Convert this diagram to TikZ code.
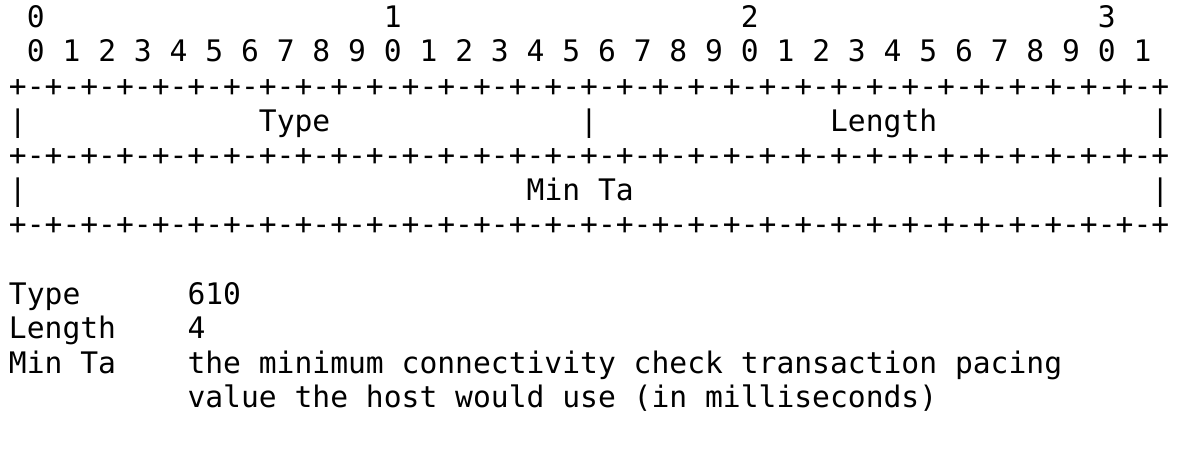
\documentclass[tikz,border=0pt]{standalone}
\usepackage{fontspec}
\setmonofont{DejaVu Sans Mono}
\usepackage{xcolor}
\usepackage{tikz}
\definecolor{ink}{RGB}{0, 0, 0}
\tikzstyle{ascii} = [anchor=base west, inner sep=0pt, outer sep=0pt, text=ink, font=\ttfamily\fontsize{29.65}{34.6}\selectfont]

\begin{document}
\begin{tikzpicture}[x=17.85pt, y=34.6pt]
    \path[use as bounding box] (-9pt,27.3pt) rectangle (1176pt,-422.7pt);

    \foreach \d [count=\i from 0] in {0,1,2,3}
        \node (ten\d) [ascii] at (1+20*\i, 0) {\d};
    \foreach \b in {0,...,31} {
        \pgfmathtruncatemacro{\u}{mod(\b,10)}
        \node (bit\b) [ascii] at (1+2*\b, -1) {\u};
    }

    \node (ruletop) [ascii] at (0,-2) {+-+-+-+-+-+-+-+-+-+-+-+-+-+-+-+-+-+-+-+-+-+-+-+-+-+-+-+-+-+-+-+-+};
    \node (barleft) [ascii] at (0,-3) {|};
    \node (typefield) [ascii] at (14,-3) {Type};
    \node (barmid) [ascii] at (32,-3) {|};
    \node (lenfield) [ascii] at (46,-3) {Length};
    \node (barright) [ascii] at (64,-3) {|};
    \node (rulemid) [ascii] at (0,-4) {+-+-+-+-+-+-+-+-+-+-+-+-+-+-+-+-+-+-+-+-+-+-+-+-+-+-+-+-+-+-+-+-+};
    \node (minleft) [ascii] at (0,-5) {|};
    \node (minfield) [ascii] at (29,-5) {Min Ta};
    \node (minright) [ascii] at (64,-5) {|};
    \node (rulebot) [ascii] at (0,-6) {+-+-+-+-+-+-+-+-+-+-+-+-+-+-+-+-+-+-+-+-+-+-+-+-+-+-+-+-+-+-+-+-+};

    \node (typekey) [ascii] at (0,-8) {Type};
    \node (typeval) [ascii] at (10,-8) {610};
    \node (lenkey) [ascii] at (0,-9) {Length};
    \node (lenval) [ascii] at (10,-9) {4};
    \node (minkey) [ascii] at (0,-10) {Min Ta};
    \node (minval) [ascii] at (10,-10) {the minimum connectivity check transaction pacing};
    \node (minvalb) [ascii] at (10,-11) {value the host would use (in milliseconds)};
\end{tikzpicture}
\end{document}
